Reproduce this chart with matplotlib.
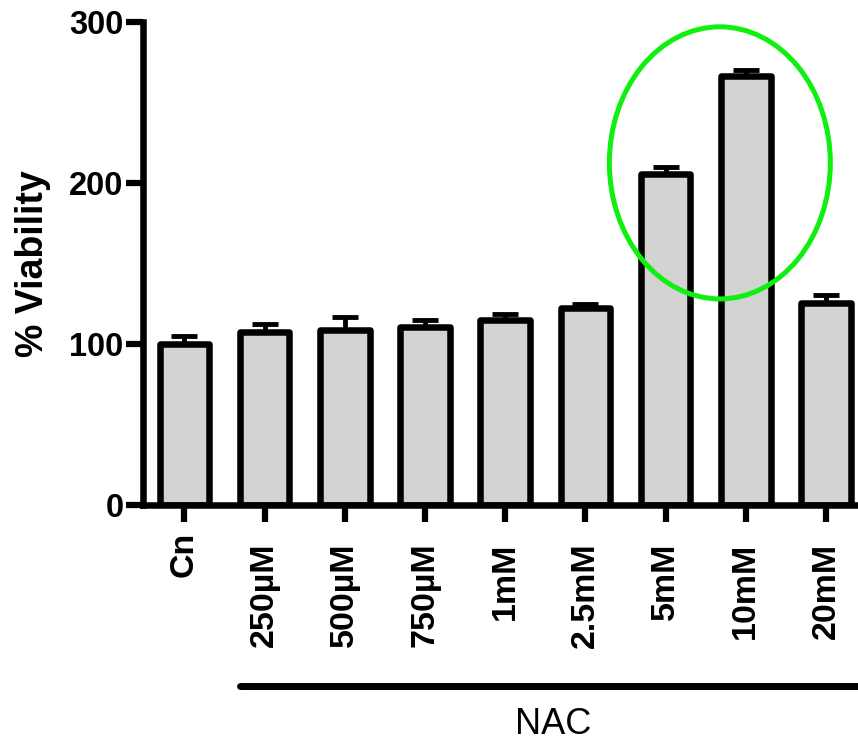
import matplotlib
matplotlib.use('Agg')
import matplotlib.pyplot as plt
import numpy as np
from matplotlib.patches import Ellipse
from matplotlib.transforms import ScaledTranslation, blended_transform_factory

# Cell viability after NAC treatment (mean and SEM, % of control)
categories = ['Cn', '250µM', '500µM', '750µM', '1mM', '2.5mM', '5mM', '10mM', '20mM']
viability = [100.2, 107.7, 108.9, 110.6, 114.8, 122.4, 205.3, 266.6, 125.5]
sem = [4.7, 4.5, 7.8, 4.6, 3.7, 2.2, 4.6, 3.3, 4.7]
y_ticks = [0, 100, 200, 300]
group_label = 'NAC'

plt.rcParams['font.family'] = ['Liberation Sans', 'DejaVu Sans']

W, H = 858, 743
fig = plt.figure(figsize=(W / 100, H / 100), dpi=100)
ax = fig.add_axes([143 / W, (H - 505) / H, 1 - 143 / W, (505 - 22) / H])

x = np.arange(len(categories))
ax.errorbar(x, viability, yerr=[np.zeros(len(sem)), sem], fmt='none',
            ecolor='black', elinewidth=3.5, capsize=9.5, capthick=3.5, zorder=1)
bars = ax.bar(x, viability, width=0.62, color='#d3d3d3', edgecolor='black',
              linewidth=4.7, zorder=2)
for b in bars:
    b.set_joinstyle('round')

ax.set_xlim(-0.517, 8.4)
ax.set_ylim(0, 300)
ax.set_yticks(y_ticks)
ax.set_xticks(x)
ax.set_xticklabels(categories, rotation=90, ha='center', va='top',
                   fontsize=24.5, fontweight='bold')
ax.set_yticklabels([str(t) for t in y_ticks], fontsize=23.5, fontweight='bold')

for side in ('top', 'right'):
    ax.spines[side].set_visible(False)
for side in ('left', 'bottom'):
    ax.spines[side].set_linewidth(4.7)
    ax.spines[side].set_capstyle('projecting')
ax.tick_params(axis='both', length=12, width=4.5, direction='out', color='black')
ax.tick_params(axis='x', pad=15)
ax.tick_params(axis='y', pad=2)

ax.set_ylabel('% Viability', fontsize=27, fontweight='bold', labelpad=13)

# control label sits slightly higher than the concentration labels
lbl0 = ax.get_xticklabels()[0]
lbl0.set_transform(lbl0.get_transform() + ScaledTranslation(0, 11 / 100, fig.dpi_scale_trans))

# highlight of the two strongest responses
ax.add_patch(Ellipse((6.677, 212.5), 2.756, 169.0, fill=False,
                     edgecolor='#10f010', linewidth=3.6, zorder=3, clip_on=False))

# group bracket under the NAC concentrations
trans = blended_transform_factory(ax.transData, fig.transFigure)
ax.plot([0.69, 8.8], [0.0767, 0.0767], transform=trans, color='black',
        linewidth=5, solid_capstyle='round', clip_on=False)
fig.text(4.6, 9 / H, group_label, transform=trans, ha='center', va='baseline',
         fontsize=26)

fig.savefig('out.png', dpi=100)
